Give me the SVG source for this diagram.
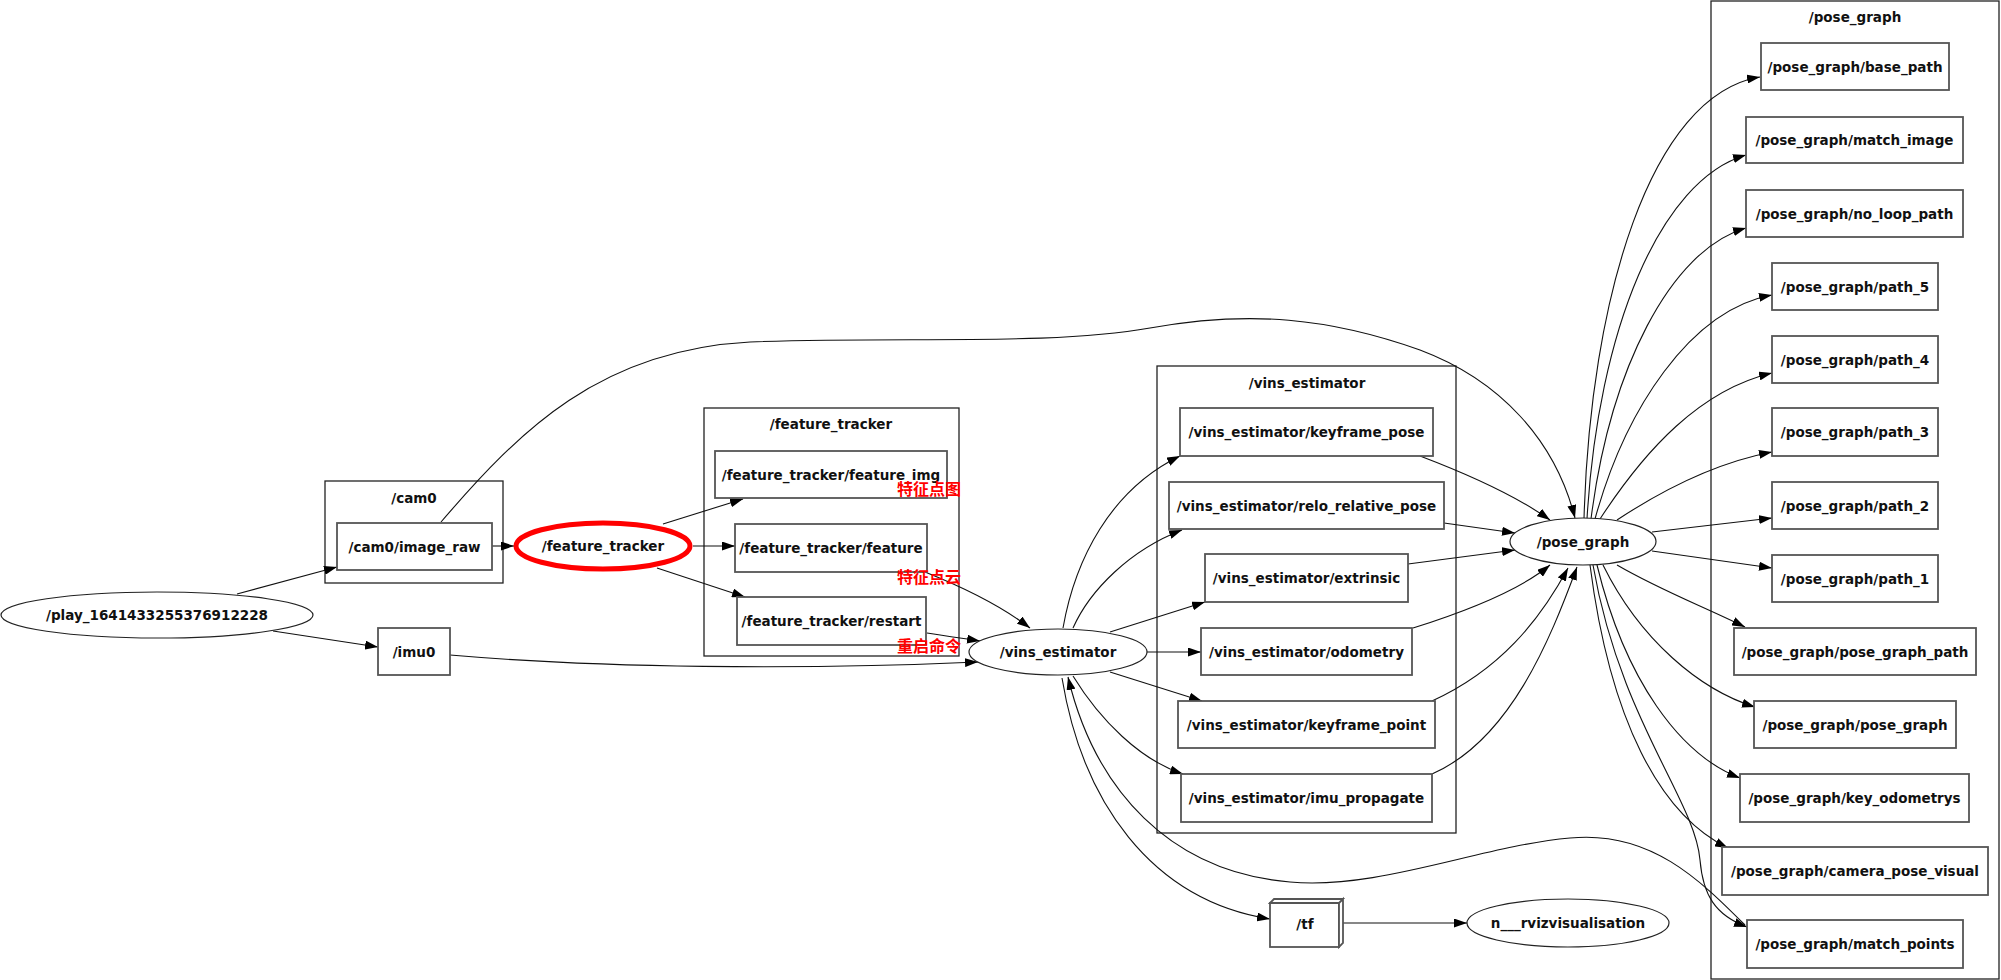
<svg xmlns="http://www.w3.org/2000/svg" width="2001" height="980" viewBox="0 0 2001 980">
<style>
text{font-family:"DejaVu Sans","Liberation Sans",sans-serif;font-size:13.5px;font-weight:bold;fill:#111;text-anchor:middle}
.lbl{font-family:"Noto Sans CJK SC",sans-serif;font-size:16px;font-weight:bold;fill:#ff0000;text-anchor:start}
.cl{fill:none;stroke:#222;stroke-width:1.3}
.nd{fill:#fff;stroke:#555;stroke-width:1.8}
.el{fill:#fff;stroke:#222;stroke-width:1.2}
.e{fill:none;stroke:#111;stroke-width:1.1;marker-end:url(#ah)}
</style>
<defs>
<marker id="ah" viewBox="0 0 13 9" refX="13" refY="4.5" markerWidth="13" markerHeight="9" orient="auto" markerUnits="userSpaceOnUse"><path d="M0,0 L13,4.5 L0,9 z" fill="#000"/></marker>
</defs>
<rect width="2001" height="980" fill="#fff"/>

<g id="clusters">
<g id="cluster_cam0"><rect class="cl" x="325" y="481" width="178" height="102"/><text x="414" y="503">/cam0</text></g>
<g id="cluster_feature_tracker"><rect class="cl" x="704" y="408" width="255" height="248"/><text x="831" y="429">/feature_tracker</text></g>
<g id="cluster_vins_estimator"><rect class="cl" x="1157" y="366" width="299" height="467"/><text x="1307" y="388">/vins_estimator</text></g>
<g id="cluster_pose_graph"><rect class="cl" x="1711" y="1" width="288" height="978"/><text x="1855" y="22">/pose_graph</text></g>
</g>

<g id="connectors">
<path class="e" d="M237,594 L337,567"/>
<path class="e" d="M273,631 L378,647"/>
<path class="e" d="M492,546 L514,546"/>
<path class="e" d="M663,524 L743,499"/>
<path class="e" d="M693,546 L735,546"/>
<path class="e" d="M657,568 L745,597"/>
<path class="e" d="M925,572 C965,588 1000,605 1030,628"/>
<path class="e" d="M927,633 C945,636 960,638 980,641"/>
<path class="e" d="M450,655 C600,668 800,670 978,662"/>
<path class="e" d="M441,522 C520,430 600,350 750,342 C900,336 1050,346 1150,328 C1250,310 1330,318 1420,350 C1500,380 1555,440 1575,518"/>
<path class="e" d="M1063,628 C1075,560 1110,490 1180,456"/>
<path class="e" d="M1073,628 C1090,590 1130,550 1182,530"/>
<path class="e" d="M1110,632 L1205,602"/>
<path class="e" d="M1147,652 L1201,652"/>
<path class="e" d="M1110,672 L1202,701"/>
<path class="e" d="M1073,676 C1100,720 1140,760 1183,774"/>
<path class="e" d="M1420,456 C1470,475 1515,495 1550,520"/>
<path class="e" d="M1444,523 L1515,533"/>
<path class="e" d="M1408,564 L1515,550"/>
<path class="e" d="M1413,628 C1470,610 1520,590 1550,565"/>
<path class="e" d="M1432,701 C1500,670 1540,620 1568,568"/>
<path class="e" d="M1432,774 C1510,740 1550,640 1577,567"/>
<path class="e" d="M1584,519 C1590,300 1650,95 1760,77"/>
<path class="e" d="M1587,519 C1598,330 1660,180 1746,155"/>
<path class="e" d="M1591,519 C1610,370 1670,250 1746,228"/>
<path class="e" d="M1595,519 C1625,410 1690,310 1772,295"/>
<path class="e" d="M1600,519 C1645,450 1700,390 1772,373"/>
<path class="e" d="M1617,520 C1670,485 1720,462 1772,452"/>
<path class="e" d="M1652,532 L1772,518"/>
<path class="e" d="M1652,551 L1772,568"/>
<path class="e" d="M1617,565 C1660,590 1700,605 1745,627"/>
<path class="e" d="M1603,565 C1640,640 1700,690 1755,707"/>
<path class="e" d="M1597,565 C1625,680 1680,755 1740,778"/>
<path class="e" d="M1590,565 C1610,720 1660,815 1728,848"/>
<path class="e" d="M1593,565 C1620,720 1695,800 1700,860 C1703,895 1715,915 1747,927"/>
<path class="e" d="M1745,925 C1700,880 1650,830 1570,838 C1480,846 1380,890 1290,882 C1170,872 1095,790 1068,677"/>
<path class="e" d="M1062,678 C1082,800 1150,900 1270,919"/>
<path class="e" d="M1343,923 L1467,923"/>
</g>

<g id="n_play"><ellipse class="el" cx="157" cy="615" rx="156" ry="23"/><text x="157" y="620">/play_1641433255376912228</text></g>
<g id="n_image_raw"><rect class="nd" x="337" y="523" width="155" height="47"/><text x="414.5" y="552">/cam0/image_raw</text></g>
<g id="n_imu0"><rect class="nd" x="378" y="628" width="72" height="47"/><text x="414" y="657">/imu0</text></g>
<g id="n_feature_tracker"><ellipse cx="603" cy="546" rx="87" ry="23" fill="#fff" stroke="#ff0000" stroke-width="5"/><text x="603" y="551">/feature_tracker</text></g>
<g id="n_feature_img"><rect class="nd" x="715" y="451" width="232" height="47"/><text x="831" y="480">/feature_tracker/feature_img</text></g>
<g id="n_feature"><rect class="nd" x="735" y="524" width="192" height="48"/><text x="831" y="553">/feature_tracker/feature</text></g>
<g id="n_restart"><rect class="nd" x="737" y="597" width="189" height="48"/><text x="831.5" y="626">/feature_tracker/restart</text></g>
<g id="n_vins_estimator"><ellipse class="el" cx="1058" cy="652" rx="89" ry="23"/><text x="1058" y="657">/vins_estimator</text></g>
<g id="n_keyframe_pose"><rect class="nd" x="1180" y="408" width="253" height="48"/><text x="1306.5" y="437">/vins_estimator/keyframe_pose</text></g>
<g id="n_relo"><rect class="nd" x="1169" y="482" width="275" height="47"/><text x="1306.5" y="511">/vins_estimator/relo_relative_pose</text></g>
<g id="n_extrinsic"><rect class="nd" x="1205" y="554" width="203" height="48"/><text x="1306.5" y="583">/vins_estimator/extrinsic</text></g>
<g id="n_odometry"><rect class="nd" x="1201" y="628" width="211" height="47"/><text x="1306.5" y="657">/vins_estimator/odometry</text></g>
<g id="n_keyframe_point"><rect class="nd" x="1178" y="701" width="257" height="47"/><text x="1306.5" y="730">/vins_estimator/keyframe_point</text></g>
<g id="n_imu_propagate"><rect class="nd" x="1181" y="774" width="251" height="48"/><text x="1306.5" y="803">/vins_estimator/imu_propagate</text></g>
<g id="n_pose_graph"><ellipse class="el" cx="1583" cy="541.5" rx="73" ry="23.5"/><text x="1583" y="547">/pose_graph</text></g>
<g id="n_base_path"><rect class="nd" x="1761" y="43" width="188" height="47"/><text x="1855" y="72">/pose_graph/base_path</text></g>
<g id="n_match_image"><rect class="nd" x="1746" y="117" width="217" height="46"/><text x="1854.5" y="145">/pose_graph/match_image</text></g>
<g id="n_no_loop_path"><rect class="nd" x="1746" y="190" width="217" height="47"/><text x="1854.5" y="219">/pose_graph/no_loop_path</text></g>
<g id="n_path_5"><rect class="nd" x="1772" y="263" width="166" height="47"/><text x="1855" y="292">/pose_graph/path_5</text></g>
<g id="n_path_4"><rect class="nd" x="1772" y="336" width="166" height="47"/><text x="1855" y="365">/pose_graph/path_4</text></g>
<g id="n_path_3"><rect class="nd" x="1772" y="408" width="166" height="48"/><text x="1855" y="437">/pose_graph/path_3</text></g>
<g id="n_path_2"><rect class="nd" x="1772" y="482" width="166" height="47"/><text x="1855" y="511">/pose_graph/path_2</text></g>
<g id="n_path_1"><rect class="nd" x="1772" y="555" width="166" height="47"/><text x="1855" y="584">/pose_graph/path_1</text></g>
<g id="n_pose_graph_path"><rect class="nd" x="1734" y="628" width="242" height="47"/><text x="1855" y="657">/pose_graph/pose_graph_path</text></g>
<g id="n_pg_pose_graph"><rect class="nd" x="1754" y="701" width="202" height="47"/><text x="1855" y="730">/pose_graph/pose_graph</text></g>
<g id="n_key_odometrys"><rect class="nd" x="1740" y="774" width="229" height="48"/><text x="1854.5" y="803">/pose_graph/key_odometrys</text></g>
<g id="n_camera_pose_visual"><rect class="nd" x="1722" y="847" width="266" height="48"/><text x="1855" y="876">/pose_graph/camera_pose_visual</text></g>
<g id="n_match_points"><rect class="nd" x="1747" y="920" width="216" height="48"/><text x="1855" y="949">/pose_graph/match_points</text></g>
<g id="n_tf"><rect class="nd" x="1270" y="903" width="69" height="44"/><path class="nd" d="M1270,903 L1274,899 L1343,899 L1339,903 Z M1339,903 L1343,899 L1343,943 L1339,947 Z"/><text x="1305" y="929">/tf</text></g>
<g id="n_rviz"><ellipse class="el" cx="1568" cy="923" rx="101" ry="24"/><text x="1568" y="928">n___rvizvisualisation</text></g>

<g id="annotations">
<text class="lbl" x="897" y="495">特征点图</text>
<text class="lbl" x="897" y="583">特征点云</text>
<text class="lbl" x="897" y="652">重启命令</text>
</g>
</svg>
